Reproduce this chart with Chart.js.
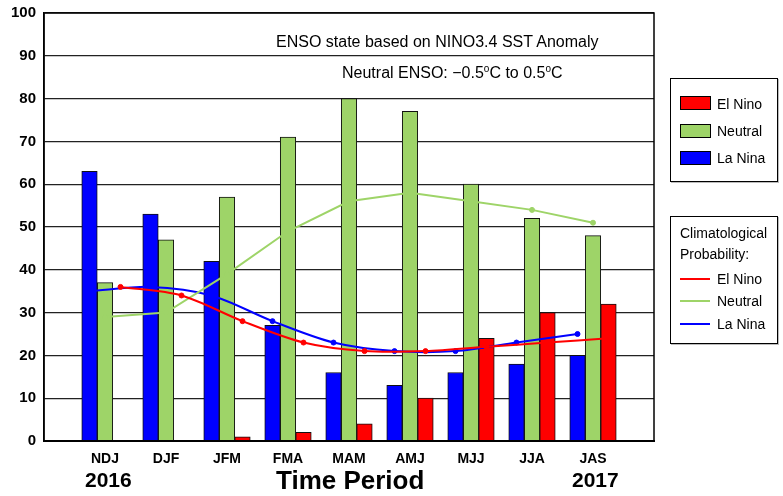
<!DOCTYPE html>
<html>
<head>
<meta charset="utf-8">
<script src="https://cdn.jsdelivr.net/npm/chart.js@4"></script>
<style>
  body { margin: 0; background: #fff; font-family: "Liberation Sans", Arial, sans-serif; }
  #wrap { position: relative; width: 783px; height: 496px; }
  .t { position: absolute; color: #000; white-space: nowrap; line-height: 1; }
  .b { font-weight: bold; }
  .box { position: absolute; border: 1px solid #000; background: #fff; box-shadow: 1px 1px 0 #bbb; }
  .item { position: absolute; left: 46px; font-size: 14px; line-height: 1; }
  .sw { position: absolute; left: 9px; width: 29px; height: 12px; border: 1px solid #000; }
  .ln { position: absolute; left: 9px; width: 30px; height: 2px; }
  sup { font-size: 10px; vertical-align: 6px; line-height: 0; }
</style>
</head>
<body>
<div id="wrap">
  <canvas id="c" width="783" height="496"></canvas>

  <div class="t" style="left:276px;top:34px;font-size:16px;">ENSO state based on NINO3.4 SST Anomaly</div>
  <div class="t" style="left:342px;top:65px;font-size:16px;">Neutral ENSO: &minus;0.5<sup>o</sup>C to 0.5<sup>o</sup>C</div>

  <div class="t b" style="left:85px;top:469px;font-size:21px;">2016</div>
  <div class="t b" style="left:276px;top:467px;font-size:26px;">Time Period</div>
  <div class="t b" style="left:572px;top:469px;font-size:21px;">2017</div>

  <div class="box" style="left:670px;top:78px;width:106px;height:102px;">
    <div class="sw" style="top:17px;background:#ff0000;"></div>
    <div class="item" style="top:18px;">El Nino</div>
    <div class="sw" style="top:45px;background:#9ed468;"></div>
    <div class="item" style="top:45px;">Neutral</div>
    <div class="sw" style="top:72px;background:#0000ff;"></div>
    <div class="item" style="top:72px;">La Nina</div>
  </div>

  <div class="box" style="left:670px;top:216px;width:106px;height:126px;">
    <div class="item" style="left:9px;top:9px;">Climatological</div>
    <div class="item" style="left:9px;top:30px;">Probability:</div>
    <div class="ln" style="top:61px;background:#ff0000;"></div>
    <div class="item" style="top:55px;">El Nino</div>
    <div class="ln" style="top:83px;background:#9ed468;"></div>
    <div class="item" style="top:77px;">Neutral</div>
    <div class="ln" style="top:106px;background:#0000ff;"></div>
    <div class="item" style="top:100px;">La Nina</div>
  </div>
</div>

<script>
const periods = ['NDJ', 'DJF', 'JFM', 'FMA', 'MAM', 'AMJ', 'MJJ', 'JJA', 'JAS']
const laNina = [63, 53, 42, 27, 16, 13, 16, 18, 20]
const neutral = [37, 47, 57, 71, 80, 77, 60, 52, 48]
const elNino = [0, 0, 1, 2, 4, 10, 24, 30, 32]
const climElNino = [36, 34, 28, 23, 21, 21, 22, 23, 24]
const climNeutral = [29, 30, 39, 49, 56, 58, 56, 54, 51]
const climLaNina = [35, 36, 34, 28, 23, 21, 21, 23, 25]
const yTicks = [0, 10, 20, 30, 40, 50, 60, 70, 80, 90, 100]

const RED = '#ff0000'
const GREEN = '#9ed468'
const BLUE = '#0000ff'
const slotPx = 61      // width of one period on the axis
const barPx = 15.5     // width of one bar
const shift = barPx / slotPx

// periods sit at 1..9 on a 0..10 axis; La Nina left, Neutral middle, El Nino right
const pts = (arr, dx) => arr.map((v, i) => ({ x: i + 1 + dx, y: v }))

function barSet(label, data, color, dx) {
  return {
    type: 'bar', label, data: pts(data, dx), backgroundColor: color,
    borderColor: '#111', borderWidth: 1, order: 2,
    grouped: false, barThickness: barPx
  }
}

function lineSet(label, data, color, dx, tension) {
  return {
    type: 'line', label, data: pts(data, dx),
    borderColor: color, backgroundColor: color, borderWidth: 2,
    pointRadius: 2.5, pointBorderWidth: 1, pointBackgroundColor: color,
    tension, order: 1
  }
}

const frame = {
  id: 'frame',
  afterDraw(chart) {
    const { ctx, chartArea: a } = chart
    ctx.save()
    ctx.strokeStyle = '#000'
    ctx.lineWidth = 1.5
    ctx.strokeRect(a.left, a.top, a.right - a.left, a.bottom - a.top)
    ctx.lineWidth = 2
    ctx.beginPath()
    ctx.moveTo(a.left, a.bottom)
    ctx.lineTo(a.right, a.bottom)
    ctx.stroke()
    ctx.restore()
  }
}

new Chart(document.getElementById('c'), {
  type: 'bar',
  data: {
    datasets: [
      barSet('La Nina', laNina, BLUE, -shift),
      barSet('Neutral', neutral, GREEN, 0),
      barSet('El Nino', elNino, RED, shift),
      lineSet('El Nino clim', climElNino, RED, shift, 0.3),
      lineSet('Neutral clim', climNeutral, GREEN, 0, 0),
      lineSet('La Nina clim', climLaNina, BLUE, -shift, 0.3)
    ]
  },
  options: {
    responsive: false,
    devicePixelRatio: 1,
    animation: false,
    layout: { padding: { left: 0, right: 129, top: 13, bottom: 0 } },
    plugins: { legend: { display: false }, tooltip: { enabled: false } },
    scales: {
      x: {
        type: 'linear', min: 0, max: 10, offset: false,
        afterBuildTicks(scale) { scale.ticks = periods.map((p, i) => ({ value: i + 1 })) },
        grid: { display: false, drawTicks: false },
        border: { display: true, color: '#000', width: 2 },
        ticks: {
          autoSkip: false, maxRotation: 0, padding: 10, color: '#000',
          callback: v => periods[v - 1],
          font: { family: 'Liberation Sans', size: 14, weight: 'bold' }
        },
        afterFit(scale) { scale.height = 55 }
      },
      y: {
        min: 0, max: 100,
        afterBuildTicks(scale) { scale.ticks = yTicks.map(v => ({ value: v })) },
        grid: { color: '#222', lineWidth: 1.2, drawTicks: false },
        border: { display: true, color: '#000', width: 1.5 },
        ticks: {
          padding: 8, color: '#000',
          font: { family: 'Liberation Sans', size: 15, weight: 'bold' }
        },
        afterFit(scale) {
          scale.width = 44
          scale.paddingTop = 0
          scale.paddingBottom = 0
        }
      }
    }
  },
  plugins: [frame]
})
</script>
</body>
</html>
